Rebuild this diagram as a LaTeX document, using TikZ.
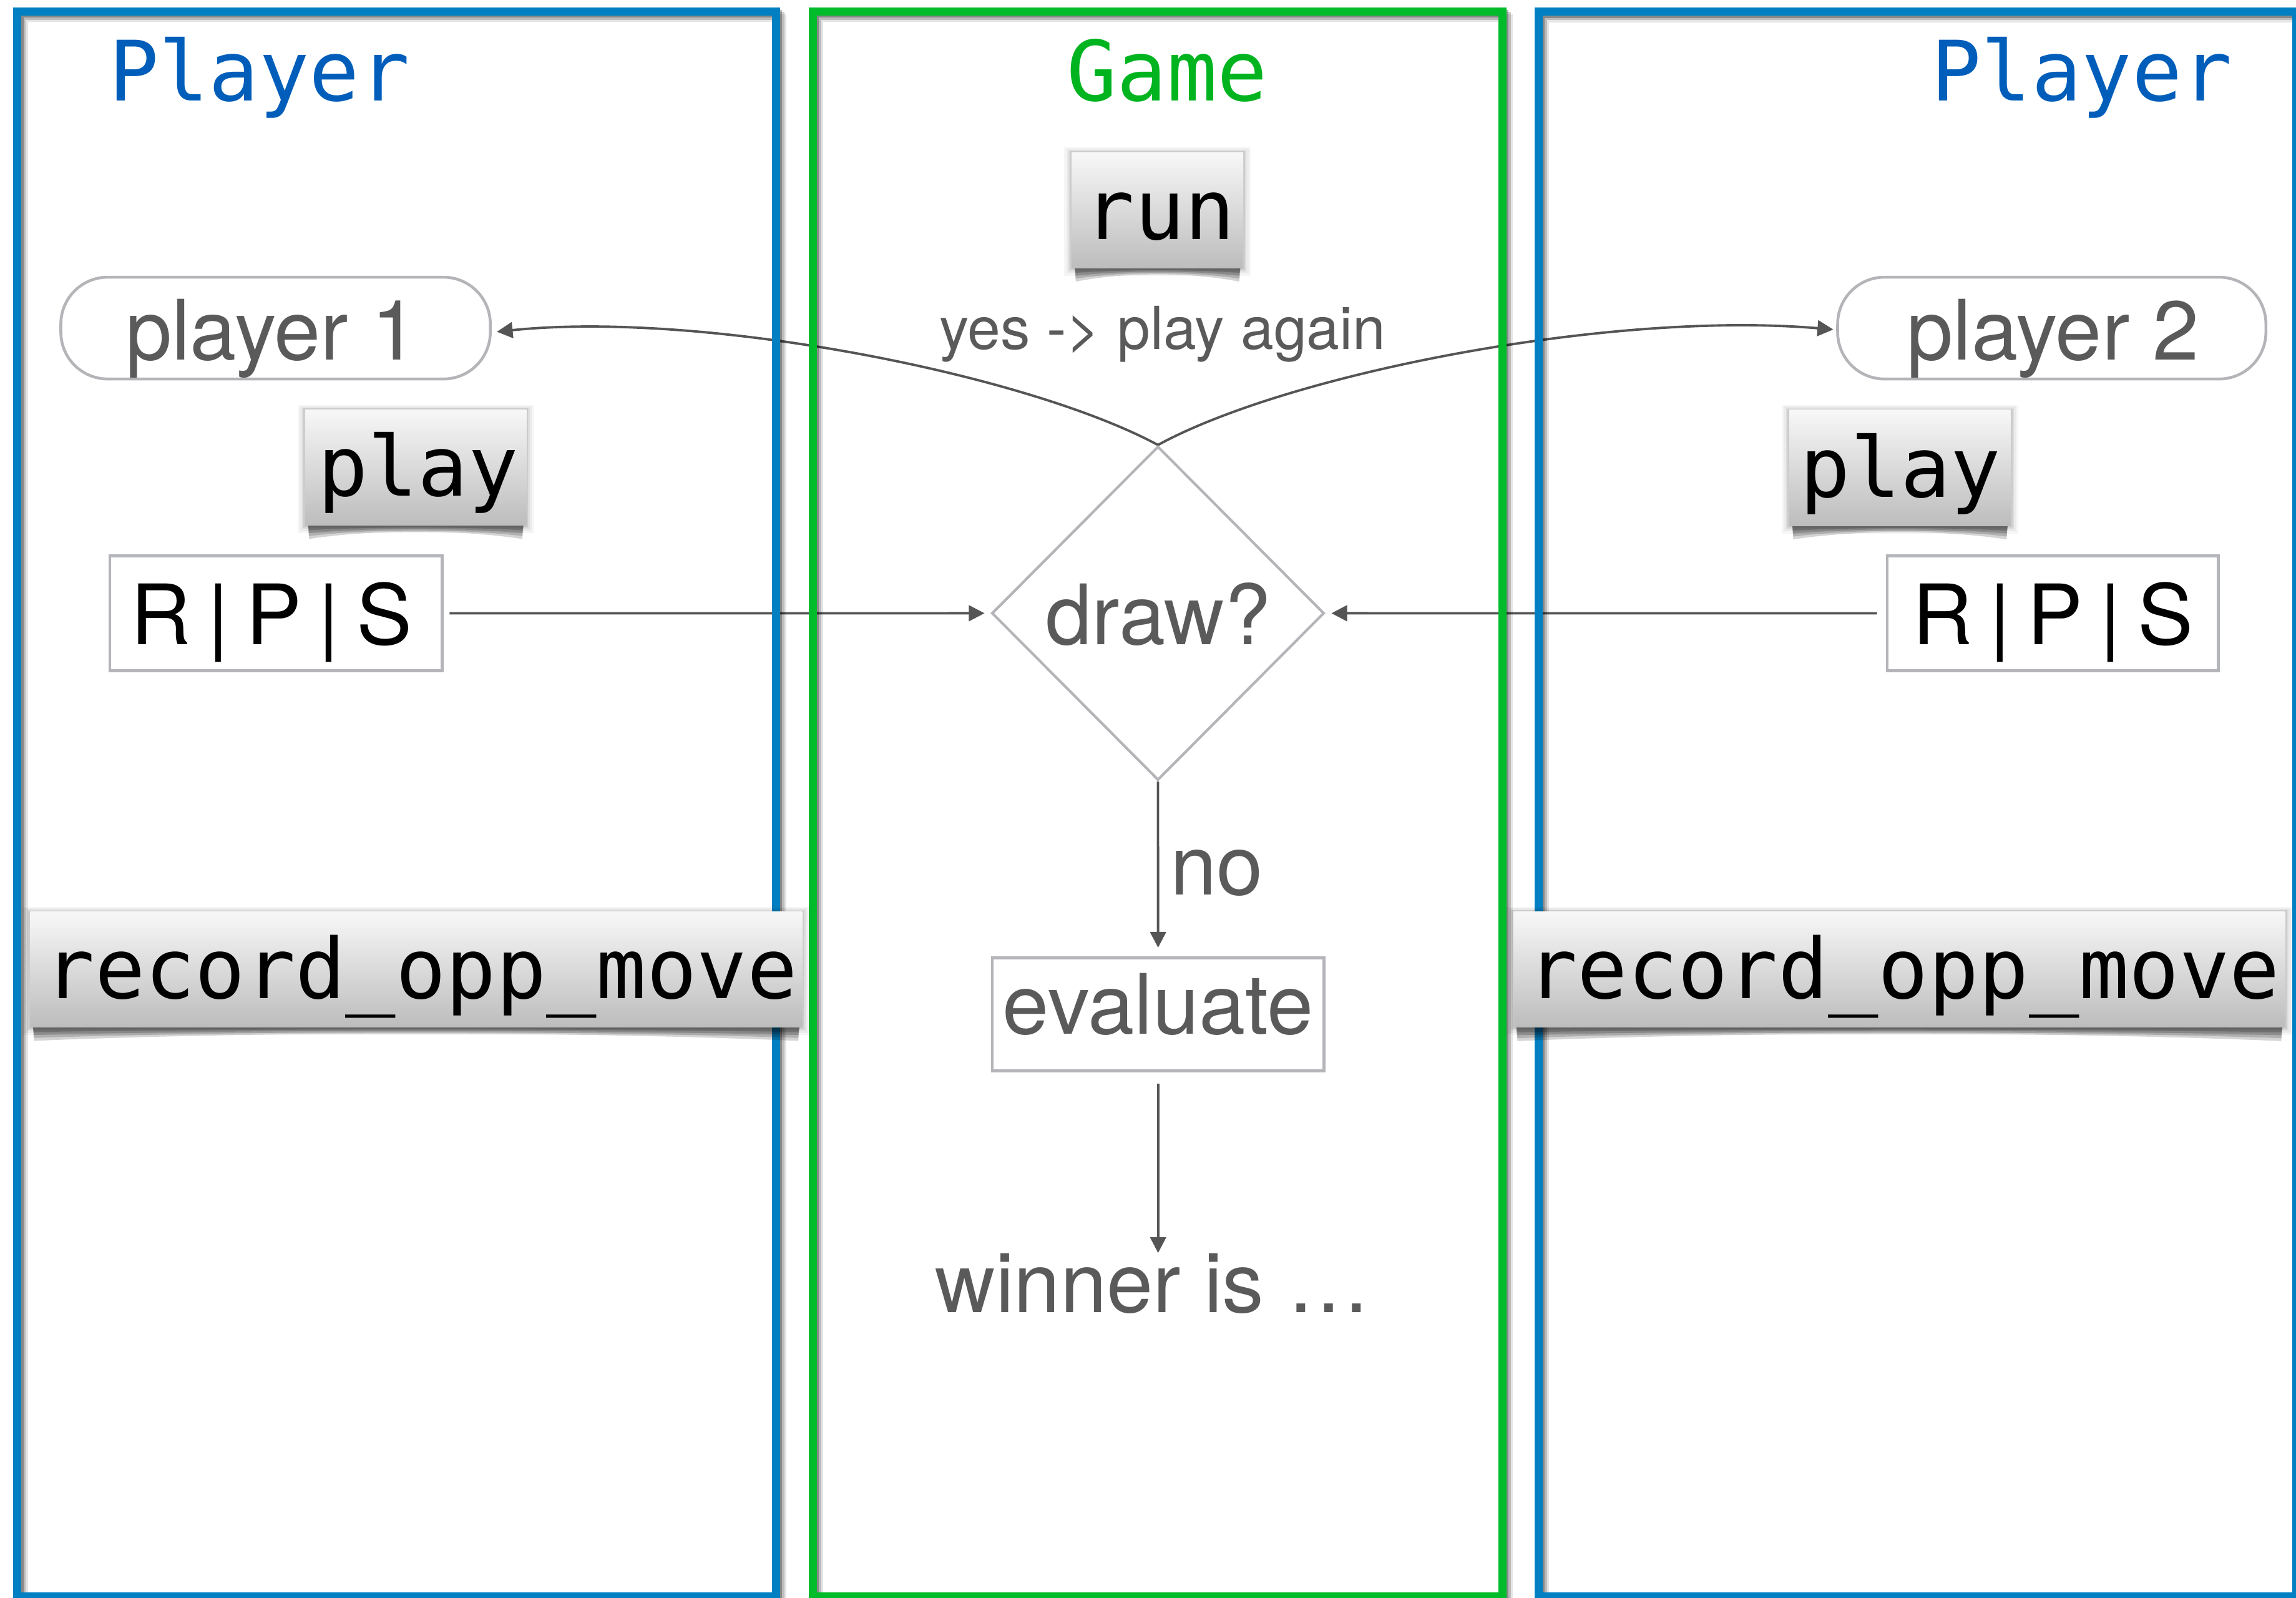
\documentclass[tikz,border=0pt]{standalone}
\usepackage{fontspec}
\setmainfont{TeX Gyre Heros}
\newfontfamily\codefont{DejaVu Sans Mono}
\usetikzlibrary{arrows.meta,shapes.geometric,calc}

\pgfdeclarelayer{wires}
\pgfdeclarelayer{lanes}
\pgfdeclarelayer{shade}
\pgfsetlayers{wires,lanes,shade,main}

\definecolor{laneblue}{RGB}{0,128,194}
\definecolor{titleblue}{RGB}{0,94,186}
\definecolor{lanegreen}{RGB}{0,187,42}
\definecolor{titlegreen}{RGB}{0,180,32}
\definecolor{inkgray}{RGB}{90,90,90}
\definecolor{linegray}{RGB}{85,85,85}
\definecolor{boxgray}{RGB}{180,181,185}

\newlength\unitpx
\setlength\unitpx{0.023463cm}

\tikzset{
  lanetitle/.style={font=\codefont\fontsize{38}{44}\selectfont, anchor=base, inner sep=0pt},
  codetext/.style={font=\codefont\fontsize{38}{44}\selectfont, text=black, anchor=base, inner sep=0pt},
  plaintext/.style={font=\fontsize{38}{44}\selectfont, text=inkgray, anchor=base, inner sep=0pt},
  movetext/.style={font=\fontsize{38}{44}\selectfont, text=black, anchor=base, inner sep=0pt},
  smalltext/.style={font=\fontsize{27}{32}\selectfont, text=inkgray, anchor=base, inner sep=0pt},
  whitebox/.style={draw=boxgray, line width=1.3pt, fill=white, inner sep=0pt},
  pillbox/.style={whitebox, rounded corners=32\unitpx},
  decision/.style={diamond, draw=boxgray, line width=1.2pt, fill=white, inner sep=0pt},
  codebox/.style={top color=black!3, bottom color=black!26, draw=none, inner sep=0pt},
  wire/.style={draw=linegray, line width=1.1pt, -{Triangle[length=7.2pt,width=7.2pt]}},
  lane/.style={line width=3.6pt},
}

% soft halo and curled drop shadow under a method label
\newcommand\codeshade[1]{%
  \begin{pgfonlayer}{shade}
    \foreach \ext/\shadeop in {5/0.035,3.5/0.045,2/0.06,1/0.08}{
      \fill[black,opacity=\shadeop] ($(#1.north west)+(-\ext,-0.6*\ext)$) rectangle ($(#1.south east)+(\ext,\ext)$);
    }
    \foreach \dep/\cv in {3/0.6,5/1.2,7/1.8,9/2.4}{
      \fill[black,opacity=0.17] ($(#1.south west)+(2,-2)$) -- ($(#1.south west)+(3,\dep)$)
        .. controls ($(#1.south west)!0.3!(#1.south east)+(0,\cv)$) and ($(#1.south west)!0.7!(#1.south east)+(0,\cv)$)
        .. ($(#1.south east)+(-3,\dep)$) -- ($(#1.south east)+(-2,-2)$) -- cycle;
    }
  \end{pgfonlayer}}

\begin{document}
\begin{tikzpicture}[x=0.023463cm, y=-0.023463cm]
\useasboundingbox (0,0) rectangle (1568,1091);

% swimlane titles
\node[lanetitle, text=titleblue] (titleL) at (177,69) {Player};
\node[lanetitle, text=titlegreen] (titleG) at (797,69) {Game};
\node[lanetitle, text=titleblue] (titleR) at (1421.7,69) {Player};

% player boxes
\node[pillbox, minimum width=293.3\unitpx, minimum height=69.5\unitpx] (p1) at (188.2,224) {};
\node[plaintext] (p1txt) at (185.5,245.5) {player 1};
\node[pillbox, minimum width=292.5\unitpx, minimum height=69.5\unitpx] (p2) at (1401.2,224) {};
\node[plaintext] (p2txt) at (1402,245.5) {player 2};

% moves
\node[whitebox, minimum width=227\unitpx, minimum height=78.5\unitpx] (rps1) at (188.5,418.75) {};
\node[movetext] (rps1txt) at (185.4,440) {R\hspace{0.2em}|\hspace{0.2em}P\hspace{0.2em}|\hspace{0.2em}S};
\node[whitebox, minimum width=226\unitpx, minimum height=78.5\unitpx] (rps2) at (1401.8,418.75) {};
\node[movetext] (rps2txt) at (1402,440) {R\hspace{0.2em}|\hspace{0.2em}P\hspace{0.2em}|\hspace{0.2em}S};

% game flow
\node[decision, minimum width=227\unitpx, minimum height=228\unitpx] (dia) at (790.8,418.7) {};
\node[plaintext] (diatxt) at (791,440) {draw?};
\node[smalltext] (again) at (794,238.5) {yes -> play again};
\node[whitebox, minimum width=226.6\unitpx, minimum height=77.2\unitpx] (eval) at (790.9,692.6) {};
\node[plaintext] (evaltxt) at (791,706.2) {evaluate};
\node[plaintext] (nolbl) at (831,610.8) {no};
\node[plaintext] (win) at (787.4,896) {winner is …};

% method labels
\node[codebox, minimum width=117\unitpx, minimum height=79\unitpx] (run) at (790.5,143.5) {};
\node[codetext] (runtxt) at (792,163.5) {run};
\node[codebox, minimum width=151\unitpx, minimum height=79\unitpx] (play1) at (283.9,319.2) {};
\node[codetext] (play1txt) at (285.5,338.8) {play};
\node[codebox, minimum width=151\unitpx, minimum height=79\unitpx] (play2) at (1297.5,319.5) {};
\node[codetext] (play2txt) at (1298,339.5) {play};
\node[codebox, minimum width=527.3\unitpx, minimum height=78.7\unitpx] (rec1) at (284.2,662) {};
\node[codetext] (rec1txt) at (287.5,681.5) {record\_opp\_move};
\node[codebox, minimum width=527\unitpx, minimum height=79\unitpx] (rec2) at (1297.1,662) {};
\node[codetext] (rec2txt) at (1300,681.5) {record\_opp\_move};

\codeshade{run}
\codeshade{play1}
\codeshade{play2}
\codeshade{rec1}
\codeshade{rec2}

% connectors
\begin{pgfonlayer}{wires}
  \draw[wire, shorten <=2.7pt, shorten >=2.7pt] (rps1.east) -- (dia.west);
  \draw[wire, shorten <=4pt, shorten >=2.7pt] (rps2.west) -- (dia.east);
  \draw[wire] (dia.north) .. controls (700,255) and (480,212) .. ($(p1.east)+(3.5,2.5)$);
  \draw[wire] (dia.north) .. controls (880,255) and (1100,212) .. ($(p2.west)+(-2,1)$);
  \draw[wire, shorten >=4pt] (dia.south) -- (eval.north);
  \draw[wire, shorten <=5.2pt] (eval.south) -- (eval.south |- win.north);
\end{pgfonlayer}

% swimlanes with their drop shadows
\begin{pgfonlayer}{lanes}
  \foreach \sh/\shadeop in {1.5/0.28,3/0.18,4.5/0.1}{
    \draw[lane, black, opacity=\shadeop, shift={(\sh,\sh)}] (11.8,7.9) rectangle (530,1090);
    \draw[lane, black, opacity=\shadeop, shift={(\sh,\sh)}] (555,7.9) rectangle (1026,1090);
    \draw[lane, black, opacity=\shadeop, shift={(\sh,\sh)}] (1050.7,8) rectangle (1568,1090);
  }
  \draw[lane, draw=laneblue] (11.8,7.9) rectangle (530,1090);
  \draw[lane, draw=lanegreen] (555,7.9) rectangle (1026,1090);
  \draw[lane, draw=laneblue] (1050.7,8) rectangle (1568,1090);
\end{pgfonlayer}
\end{tikzpicture}
\end{document}
